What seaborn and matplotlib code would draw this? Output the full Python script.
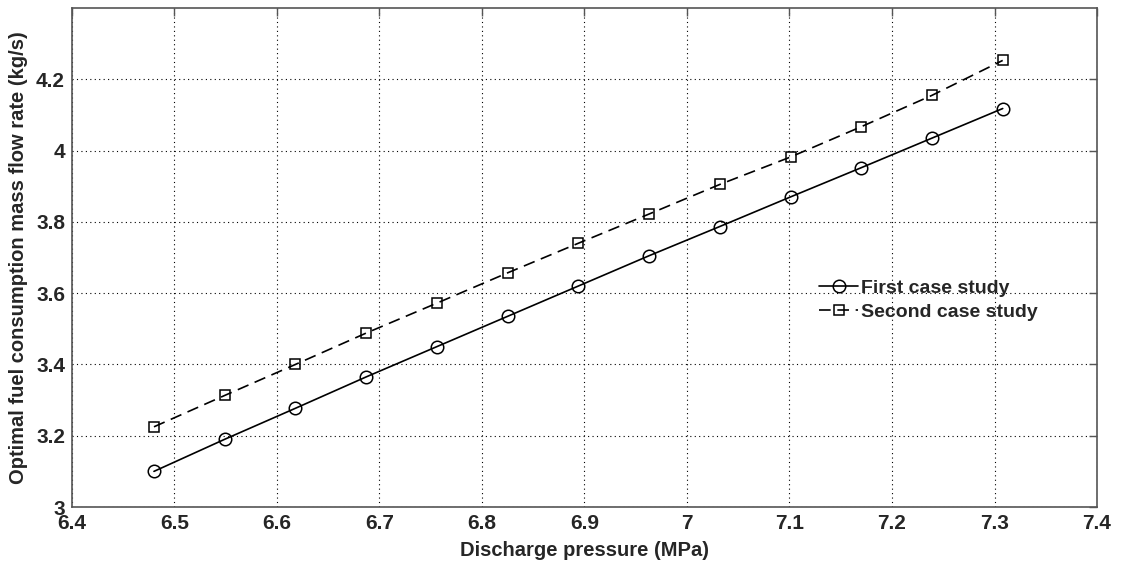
import seaborn as sns
import pandas as pd
import matplotlib.pyplot as plt

# discharge pressure (MPa)
pressure = [6.480, 6.549, 6.618, 6.687, 6.756, 6.825, 6.894,
            6.963, 7.032, 7.101, 7.170, 7.239, 7.308]
# optimal fuel consumption mass flow rate (kg/s)
first_case = [3.100, 3.190, 3.277, 3.365, 3.450, 3.535, 3.620,
              3.705, 3.787, 3.870, 3.952, 4.035, 4.118]
second_case = [3.225, 3.313, 3.400, 3.488, 3.572, 3.657, 3.740,
               3.822, 3.905, 3.982, 4.067, 4.155, 4.253]

df1 = pd.DataFrame({'p': pressure, 'm': first_case})
df2 = pd.DataFrame({'p': pressure, 'm': second_case})

sns.set_style('white')
plt.rcParams['font.family'] = ['Liberation Sans', 'DejaVu Sans']
plt.rcParams['font.weight'] = 'bold'

fig = plt.figure(figsize=(11.21, 5.77), dpi=100)
ax = fig.add_axes([0.0642, 0.1213, 0.9144, 0.8648])

sns.lineplot(data=df1, x='p', y='m', ax=ax, color='black', linewidth=1.2,
             marker='o', markersize=9, markerfacecolor='none',
             markeredgecolor='black', markeredgewidth=1.1,
             label='First case study')
sns.lineplot(data=df2, x='p', y='m', ax=ax, color='black', linewidth=1.2,
             linestyle=(0, (7, 4)), marker='s', markersize=7.5,
             markerfacecolor='none', markeredgecolor='black',
             markeredgewidth=1.1, label='Second case study')

ax.set_xlim(6.4, 7.4)
ax.set_ylim(3, 4.4)
ax.set_xticks([6.4, 6.5, 6.6, 6.7, 6.8, 6.9, 7.0, 7.1, 7.2, 7.3, 7.4])
ax.set_xticklabels(['6.4', '6.5', '6.6', '6.7', '6.8', '6.9', '7',
                    '7.1', '7.2', '7.3', '7.4'])
ax.set_yticks([3, 3.2, 3.4, 3.6, 3.8, 4.0, 4.2])
ax.set_yticklabels(['3', '3.2', '3.4', '3.6', '3.8', '4', '4.2'])
ax.tick_params(direction='in', length=6, width=1, labelsize=15,
               top=True, right=True, color='#555555')
ax.tick_params(axis='x', pad=5)
ax.tick_params(axis='y', pad=5)
for lbl in ax.get_xticklabels() + ax.get_yticklabels():
    lbl.set_fontweight('bold')

ax.grid(True, linestyle=(0, (1, 3)), color='black', linewidth=0.8)
for s in ax.spines.values():
    s.set_color('#555555')
    s.set_linewidth(1.2)

ax.set_xlabel('Discharge pressure (MPa)', fontsize=14.5, fontweight='bold',
              labelpad=6)
ax.set_ylabel('Optimal fuel consumption mass flow rate (kg/s)', fontsize=14.5,
              fontweight='bold', labelpad=6)

ax.legend(loc='center left', bbox_to_anchor=(0.712, 0.415), frameon=False,
          handlelength=2.0, handletextpad=0.15, labelspacing=0.35,
          prop={'size': 14, 'weight': 'bold'})

fig.savefig('out.png', dpi=100)
